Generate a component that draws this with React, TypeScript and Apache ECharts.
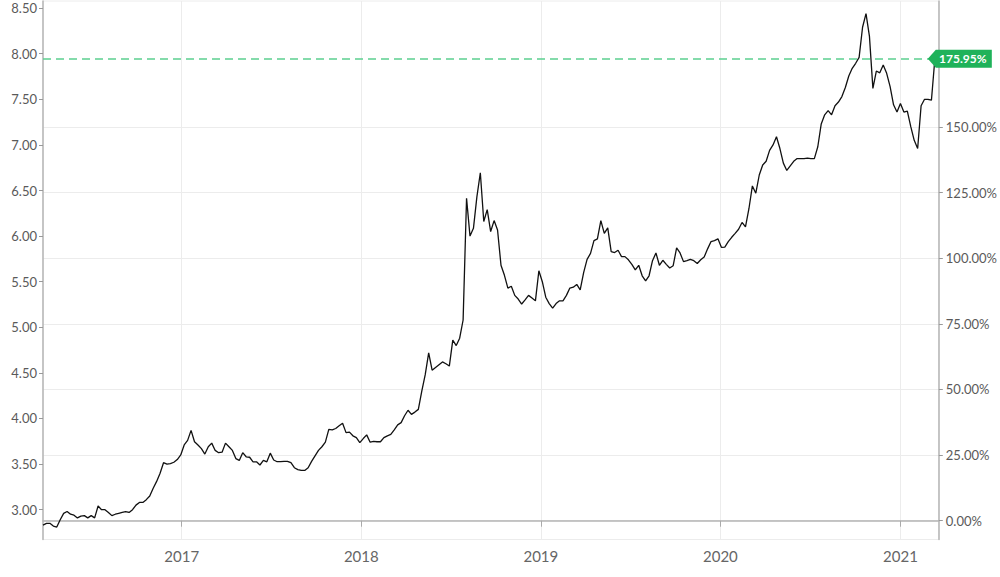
import React, { useEffect, useRef } from "react";
import * as echarts from "echarts";

// Weekly closing values, starting 2016-03-25
const START_DATE = [2016, 2, 25];
const AXIS_END_DATE = [2021, 2, 20];
const PRICES = [
  2.83, 2.85, 2.85, 2.82, 2.81, 2.89, 2.96, 2.98, 2.95, 2.94,
  2.91, 2.93, 2.935, 2.91, 2.935, 2.91, 3.04, 3.0, 3.0, 2.97,
  2.935, 2.95, 2.96, 2.97, 2.98, 2.97, 3.0, 3.05, 3.08, 3.08,
  3.11, 3.15, 3.235, 3.31, 3.4, 3.515, 3.5, 3.505, 3.52, 3.55,
  3.6, 3.71, 3.76, 3.87, 3.745, 3.71, 3.67, 3.61, 3.69, 3.73,
  3.65, 3.625, 3.63, 3.73, 3.69, 3.65, 3.56, 3.54, 3.625, 3.58,
  3.575, 3.525, 3.525, 3.49, 3.54, 3.525, 3.62, 3.545, 3.526, 3.526,
  3.53, 3.53, 3.515, 3.46, 3.44, 3.43, 3.43, 3.46, 3.53, 3.59,
  3.65, 3.69, 3.74, 3.88, 3.875, 3.89, 3.92, 3.947, 3.845, 3.85,
  3.81, 3.79, 3.735, 3.78, 3.82, 3.74, 3.75, 3.745, 3.745, 3.79,
  3.81, 3.825, 3.875, 3.93, 3.955, 4.03, 4.09, 4.045, 4.07, 4.1,
  4.3, 4.48, 4.72, 4.53, 4.56, 4.59, 4.62, 4.6, 4.575, 4.86,
  4.8, 4.88, 5.08, 6.415, 6.0, 6.085, 6.43, 6.695, 6.16, 6.29,
  6.05, 6.17, 6.067, 5.68, 5.57, 5.43, 5.45, 5.35, 5.31, 5.255,
  5.3, 5.35, 5.32, 5.29, 5.62, 5.5, 5.33, 5.26, 5.21, 5.26,
  5.29, 5.29, 5.35, 5.43, 5.44, 5.47, 5.41, 5.6, 5.745, 5.81,
  5.95, 5.97, 6.17, 6.03, 6.09, 5.83, 5.82, 5.845, 5.775, 5.775,
  5.74, 5.69, 5.63, 5.68, 5.565, 5.51, 5.565, 5.73, 5.815, 5.68,
  5.735, 5.69, 5.65, 5.675, 5.87, 5.815, 5.72, 5.73, 5.745, 5.73,
  5.7, 5.74, 5.77, 5.86, 5.94, 5.95, 5.97, 5.877, 5.88, 5.94,
  5.987, 6.03, 6.075, 6.15, 6.1, 6.3, 6.55, 6.47, 6.67, 6.78,
  6.82, 6.94, 7.0, 7.09, 6.96, 6.8, 6.72, 6.77, 6.82, 6.85,
  6.85, 6.85, 6.855, 6.85, 6.85, 6.98, 7.23, 7.33, 7.375, 7.33,
  7.43, 7.47, 7.53, 7.63, 7.755, 7.84, 7.895, 7.96, 8.29, 8.44,
  8.19, 7.62, 7.81, 7.79, 7.875, 7.785, 7.64, 7.44, 7.36, 7.455,
  7.36, 7.37, 7.2, 7.05, 6.96, 7.43, 7.5, 7.5, 7.49, 7.944,
];
const LAST_CHANGE_PCT = 175.95;
const LEFT_TICKS = [3.0, 3.5, 4.0, 4.5, 5.0, 5.5, 6.0, 6.5, 7.0, 7.5, 8.0, 8.5];
const RIGHT_TICKS = [0, 25, 50, 75, 100, 125, 150];
const YEAR_TICKS = [2017, 2018, 2019, 2020, 2021];
const Y_MIN = 2.673;
const Y_MAX = 8.578;

const WEEK = 7 * 86400000;
const FONT = "Lato, 'Open Sans', sans-serif";

export default function App() {
  const ref = useRef<HTMLDivElement>(null);
  useEffect(() => {
    document.body.style.margin = "0";
    const chart = echarts.init(ref.current!, null, { renderer: "svg" });
    const startTs = Date.UTC(START_DATE[0], START_DATE[1], START_DATE[2]);
    const endTs = Date.UTC(AXIS_END_DATE[0], AXIS_END_DATE[1], AXIS_END_DATE[2]);
    const data = PRICES.map((v, i) => [startTs + i * WEEK, v]);
    const last = PRICES[PRICES.length - 1];
    const base = last / (1 + LAST_CHANGE_PCT / 100);
    const toPct = (v: number) => (v / base - 1) * 100;
    const yearTs = YEAR_TICKS.map((y) => Date.UTC(y, 0, 1));
    const axisLineStyle = { color: "#b4b4b4", width: 1.5 };
    const labelStyle = { color: "#5a5a5a", fontSize: 13, fontFamily: FONT };

    chart.setOption({
      animation: false,
      grid: {
        left: 43,
        right: 57,
        top: 1,
        bottom: 37.5,
        show: true,
        borderColor: "#ececec",
        borderWidth: 1,
      },
      xAxis: {
        type: "value",
        min: startTs,
        max: endTs,
        axisLine: { show: true, lineStyle: axisLineStyle },
        axisTick: { show: true, customValues: yearTs, length: 6, lineStyle: { color: "#aaaaaa" } },
        axisLabel: {
          customValues: yearTs,
          formatter: (v: number) => String(new Date(v).getUTCFullYear()),
          color: "#666666",
          fontSize: 15,
          fontFamily: FONT,
          margin: 9,
        },
        splitLine: { show: true, lineStyle: { color: "#ececec", width: 1 } },
      },
      yAxis: [
        {
          type: "value",
          position: "left",
          min: Y_MIN,
          max: Y_MAX,
          axisLine: { show: true, lineStyle: axisLineStyle },
          axisTick: { show: true, customValues: LEFT_TICKS, length: 4, lineStyle: { color: "#999999" } },
          axisLabel: {
            customValues: LEFT_TICKS,
            formatter: (v: number) => v.toFixed(2),
            margin: 6,
            ...labelStyle,
          },
          splitLine: { show: false },
        },
        {
          type: "value",
          position: "right",
          min: toPct(Y_MIN),
          max: toPct(Y_MAX),
          axisLine: { show: true, lineStyle: axisLineStyle },
          axisTick: { show: true, customValues: RIGHT_TICKS, length: 4, lineStyle: { color: "#999999" } },
          axisLabel: {
            customValues: RIGHT_TICKS,
            formatter: (v: number) => v.toFixed(2) + "%",
            margin: 7,
            ...labelStyle,
          },
          splitLine: { show: true, lineStyle: { color: "#ececec", width: 1 } },
        },
      ],
      series: [
        {
          type: "line",
          yAxisIndex: 0,
          data,
          symbol: "none",
          showSymbol: false,
          lineStyle: { color: "#111111", width: 1.3 },
          markLine: {
            silent: true,
            symbol: ["none", "none"],
            label: { show: false },
            lineStyle: { color: "#5ccf90", type: [8, 5], width: 1.5 },
            data: [{ yAxis: last }],
          },
        },
      ],
    });

    const py = chart.convertToPixel({ yAxisIndex: 0 }, last) as number;
    const px = chart.convertToPixel({ xAxisIndex: 0 }, endTs) as number;
    chart.setOption({
      graphic: [
        {
          type: "polygon",
          z: 100,
          shape: {
            points: [
              [px - 11, py],
              [px - 3, py - 9],
              [px + 53, py - 9],
              [px + 53, py + 9],
              [px - 3, py + 9],
            ],
          },
          style: { fill: "#1fb25a" },
        },
        {
          type: "text",
          z: 101,
          x: px + 24,
          y: py,
          style: {
            text: LAST_CHANGE_PCT.toFixed(2) + "%",
            fill: "#ffffff",
            font: "bold 12px " + FONT,
            align: "center",
            verticalAlign: "middle",
          },
        },
      ],
    });

    return () => chart.dispose();
  }, []);

  return (
    <div
      ref={ref}
      style={{ position: "absolute", left: 0, top: 0, width: 1000, height: 577 }}
    />
  );
}
